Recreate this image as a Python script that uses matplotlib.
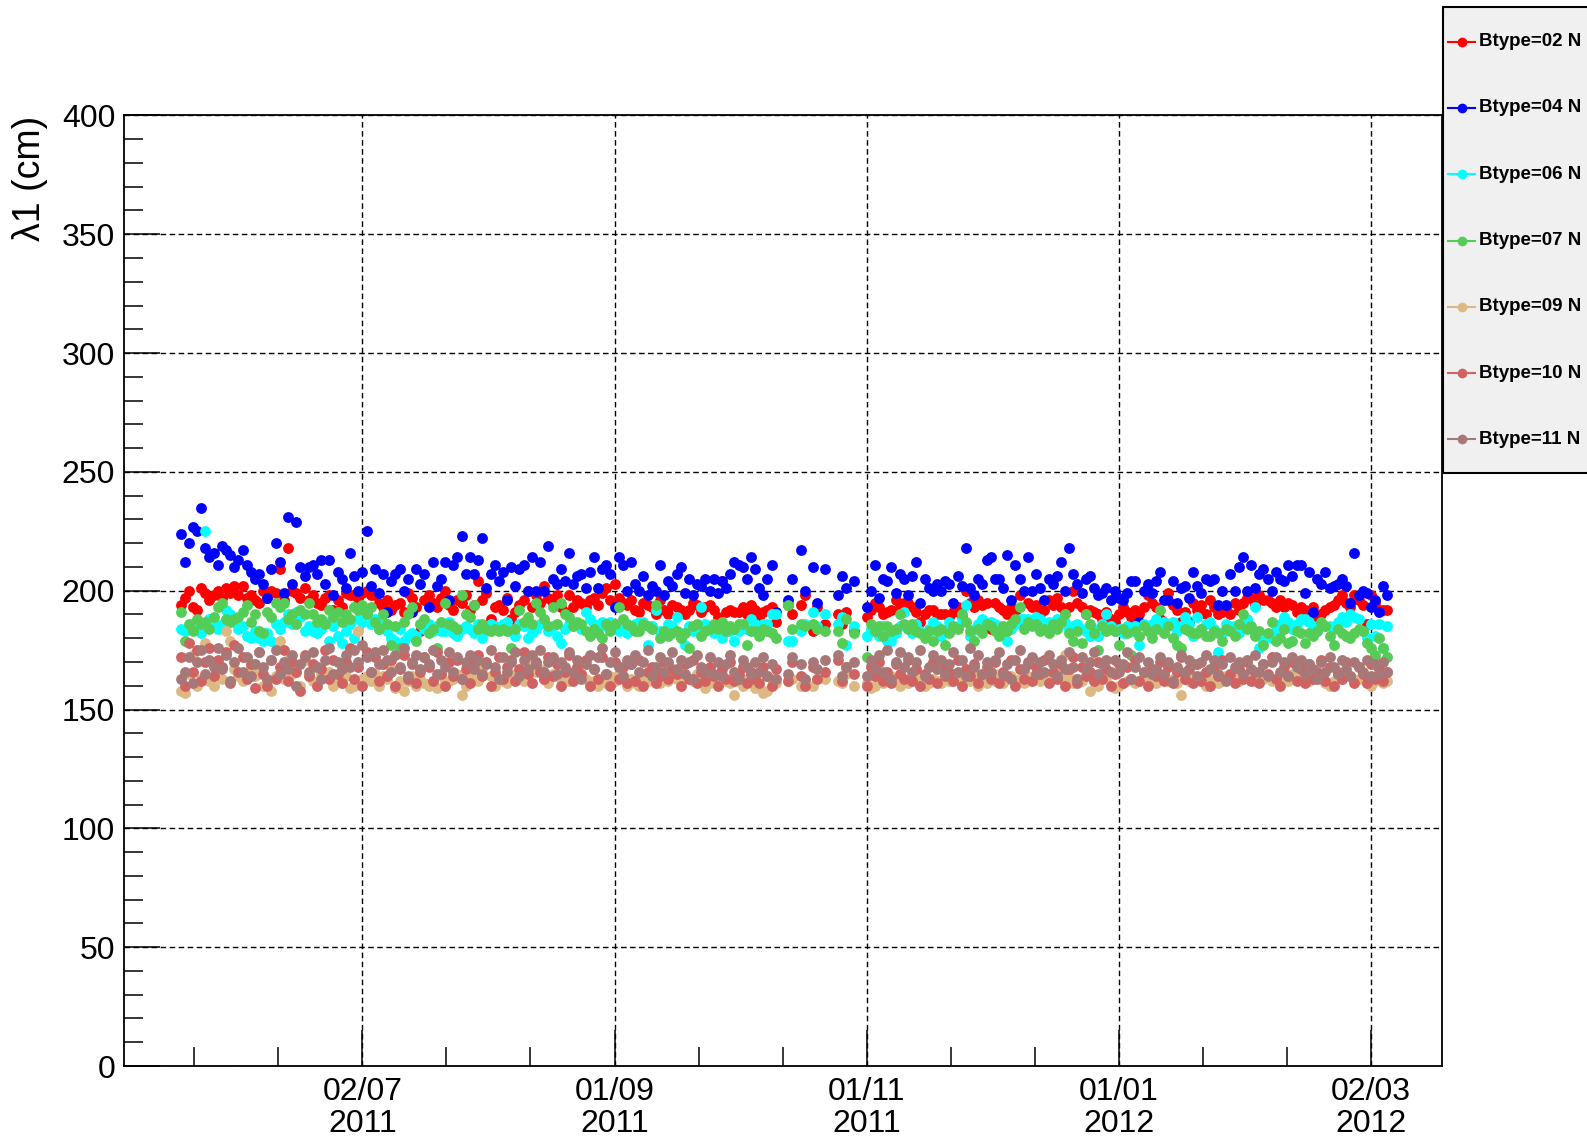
import datetime as dt

import matplotlib
matplotlib.use("Agg")
import matplotlib.pyplot as plt
import matplotlib.dates as mdates
from matplotlib.lines import Line2D
from matplotlib.patches import Rectangle
from matplotlib.ticker import FixedLocator, MultipleLocator

plt.rcParams['font.family'] = ['Liberation Sans', 'DejaVu Sans']

# daily runs, counted in days from 02/07/2011 (a few missing days in October)
t0 = dt.datetime(2011, 7, 2)
day_offsets = (list(range(-44, 101))
               + [103, 104, 106, 107, 109, 110, 112, 115, 116, 117, 119]
               + list(range(122, 249)))

btype02 = [
    194, 197, 200, 193, 192, 201, 199, 196, 198, 200,
    197, 201, 199, 202, 198, 202, 197, 198, 196, 195,
    200, 197, 200, 199, 209, 196, 218, 200, 199, 197,
    201, 196, 198, 195, 194, 197, 198, 192, 196, 193,
    199, 198, 198, 197, 199, 200, 198, 198, 195, 193,
    196, 192, 194, 195, 191, 199, 197, 193, 183, 196,
    198, 195, 193, 197, 200, 194, 192, 196, 195, 198,
    192, 194, 204, 196, 199, 188, 193, 194, 192, 197,
    188, 191, 194, 196, 200, 193, 198, 195, 202, 197,
    195, 198, 193, 191, 198, 193, 196, 195, 193, 196,
    197, 194, 199, 201, 196, 203, 197, 195, 194, 196,
    192, 191, 195, 194, 193, 190, 196, 192, 190, 194,
    193, 192, 190, 192, 195, 194, 191, 193, 194, 192,
    189, 204, 191, 192, 191, 191, 193, 190, 194, 192,
    188, 191, 192, 193, 187,
    194, 190, 194, 198, 183, 193, 186, 190, 186, 191, 183,
    189, 192, 195, 193, 190, 191, 192, 196, 193, 195,
    195, 193, 191, 187, 190, 192, 192, 190, 190, 190,
    189, 191, 193, 189, 200, 195, 193, 196, 194, 195,
    184, 195, 193, 192, 190, 193, 191, 198, 186, 195,
    193, 194, 190, 192, 196, 194, 197, 193, 192, 193,
    200, 195, 193, 190, 192, 191, 190, 188, 191, 188,
    187, 190, 193, 191, 189, 192, 190, 193, 198, 195,
    193, 188, 187, 199, 194, 192, 187, 191, 187, 195,
    192, 194, 190, 196, 193, 190, 191, 193, 190, 195,
    192, 195, 197, 197, 194, 198, 196, 196, 195, 193,
    196, 193, 195, 194, 191, 193, 192, 191, 193, 188,
    190, 192, 193, 194, 196, 198, 195, 193, 198, 196,
    194, 186, 198, 195, 192, 192, 192,
]

btype04 = [
    224, 212, 220, 227, 225, 235, 218, 214, 216, 211,
    219, 217, 215, 210, 213, 217, 211, 208, 205, 207,
    203, 197, 209, 220, 212, 199, 231, 203, 229, 210,
    206, 210, 211, 207, 213, 203, 213, 198, 208, 205,
    201, 216, 206, 200, 208, 225, 202, 209, 199, 207,
    191, 204, 207, 209, 200, 205, 191, 209, 203, 207,
    193, 212, 202, 205, 212, 196, 211, 214, 223, 207,
    214, 207, 213, 222, 201, 207, 211, 204, 208, 196,
    210, 202, 209, 211, 200, 214, 200, 212, 200, 219,
    205, 203, 209, 204, 216, 203, 206, 207, 201, 208,
    214, 201, 209, 211, 207, 193, 214, 211, 200, 212,
    203, 200, 206, 198, 202, 200, 211, 198, 204, 202,
    207, 210, 199, 205, 198, 203, 202, 205, 200, 205,
    199, 204, 201, 207, 212, 211, 210, 205, 214, 209,
    201, 198, 205, 211, 191,
    196, 205, 217, 200, 210, 195, 209, 198, 206, 201, 204,
    193, 200, 211, 197, 205, 204, 210, 199, 207, 205,
    198, 206, 212, 195, 205, 201, 200, 203, 200, 204,
    203, 195, 206, 202, 218, 201, 198, 205, 203, 213,
    214, 205, 205, 201, 215, 196, 211, 205, 200, 214,
    200, 207, 201, 196, 205, 203, 206, 212, 200, 218,
    207, 203, 199, 205, 206, 201, 198, 199, 201, 196,
    200, 197, 196, 199, 204, 204, 187, 200, 203, 199,
    204, 208, 196, 196, 204, 195, 201, 202, 197, 208,
    202, 199, 205, 204, 205, 194, 200, 194, 207, 200,
    210, 214, 200, 211, 201, 207, 209, 205, 200, 208,
    205, 204, 211, 206, 211, 211, 199, 208, 191, 205,
    203, 208, 201, 202, 203, 205, 202, 195, 216, 198,
    200, 199, 193, 196, 191, 202, 198,
]

btype06 = [
    184, 183, 185, 186, 184, 182, 225, 188, 186, 184,
    186, 192, 190, 187, 184, 185, 181, 180, 183, 180,
    179, 182, 179, 186, 184, 187, 190, 186, 191, 189,
    183, 185, 183, 182, 184, 187, 179, 185, 181, 178,
    183, 186, 180, 188, 187, 190, 186, 188, 184, 187,
    183, 180, 179, 184, 179, 181, 182, 181, 186, 184,
    186, 183, 185, 183, 183, 187, 182, 181, 184, 185,
    184, 182, 186, 180, 183, 186, 185, 184, 186, 187,
    183, 181, 186, 185, 180, 182, 184, 186, 187, 183,
    185, 181, 178, 184, 186, 185, 186, 184, 191, 188,
    186, 184, 187, 185, 187, 186, 183, 185, 182, 184,
    186, 187, 187, 177, 185, 192, 183, 182, 186, 185,
    189, 182, 177, 185, 183, 184, 193, 186, 184, 182,
    183, 180, 185, 183, 179, 183, 185, 184, 188, 186,
    184, 186, 186, 190, 190,
    179, 179, 183, 186, 191, 185, 190, 186, 189, 177, 185,
    181, 184, 183, 181, 185, 179, 179, 182, 185, 191,
    184, 182, 186, 183, 181, 184, 187, 185, 181, 183,
    187, 184, 185, 188, 194, 181, 184, 186, 188, 186,
    187, 186, 185, 182, 179, 184, 186, 188, 188, 188,
    186, 189, 188, 185, 187, 186, 188, 186, 187, 184,
    185, 186, 184, 183, 181, 184, 181, 186, 190, 185,
    183, 184, 182, 185, 183, 185, 177, 186, 185, 186,
    188, 184, 187, 186, 187, 183, 185, 189, 186, 181,
    189, 184, 186, 187, 184, 174, 182, 186, 185, 185,
    182, 187, 188, 184, 193, 176, 179, 181, 180, 183,
    186, 189, 187, 184, 186, 188, 188, 187, 185, 183,
    186, 185, 185, 184, 187, 189, 187, 190, 189, 188,
    183, 180, 186, 181, 186, 176, 185,
]

btype07 = [
    191, 179, 186, 183, 188, 186, 187, 184, 189, 193,
    195, 188, 187, 188, 189, 191, 194, 187, 190, 183,
    182, 191, 189, 195, 193, 195, 188, 190, 186, 192,
    190, 195, 190, 187, 188, 186, 192, 189, 191, 187,
    190, 188, 193, 192, 194, 190, 193, 187, 184, 190,
    186, 177, 185, 176, 187, 190, 193, 179, 186, 188,
    182, 184, 176, 187, 195, 186, 185, 184, 198, 190,
    189, 194, 184, 186, 184, 183, 184, 183, 184, 183,
    176, 184, 192, 187, 189, 186, 195, 191, 188, 185,
    193, 186, 195, 190, 189, 185, 187, 186, 183, 181,
    184, 182, 180, 186, 183, 186, 193, 188, 186, 185,
    183, 183, 186, 185, 184, 194, 180, 183, 181, 182,
    183, 180, 182, 176, 185, 186, 181, 183, 184, 186,
    184, 187, 183, 185, 184, 186, 186, 177, 183, 183,
    181, 184, 183, 182, 180,
    194, 184, 186, 185, 186, 184, 183, 183, 178, 188, 182,
    172, 186, 183, 185, 181, 185, 183, 184, 190, 186,
    184, 186, 183, 182, 180, 183, 179, 183, 184, 177,
    182, 185, 184, 190, 187, 183, 179, 184, 182, 186,
    185, 183, 181, 185, 183, 186, 188, 193, 184, 187,
    185, 186, 183, 184, 182, 186, 184, 187, 190, 182,
    179, 183, 178, 190, 186, 182, 175, 185, 183, 184,
    183, 177, 184, 182, 173, 183, 181, 185, 183, 180,
    184, 192, 182, 185, 180, 177, 176, 184, 183, 182,
    182, 184, 181, 181, 183, 182, 179, 184, 183, 181,
    186, 190, 184, 185, 181, 183, 177, 182, 187, 179,
    180, 184, 178, 179, 183, 182, 178, 182, 181, 183,
    187, 185, 181, 177, 184, 182, 181, 180, 182, 184,
    183, 178, 176, 173, 180, 176, 172,
]

btype09 = [
    158, 157, 165, 173, 160, 163, 178, 162, 160, 165,
    163, 183, 179, 167, 164, 162, 165, 168, 164, 165,
    160, 162, 158, 164, 179, 163, 171, 165, 166, 160,
    171, 164, 162, 168, 165, 164, 166, 160, 163, 161,
    164, 159, 160, 183, 163, 164, 162, 165, 160, 164,
    163, 167, 159, 162, 158, 162, 164, 160, 163, 161,
    160, 162, 159, 164, 161, 162, 163, 165, 156, 160,
    164, 166, 162, 167, 169, 164, 160, 163, 162, 161,
    163, 165, 166, 162, 164, 171, 166, 167, 163, 161,
    165, 164, 163, 166, 162, 163, 164, 165, 163, 161,
    162, 160, 163, 161, 164, 162, 165, 164, 160, 163,
    161, 160, 163, 162, 165, 164, 161, 163, 162, 164,
    163, 162, 164, 163, 162, 165, 163, 159, 161, 163,
    164, 165, 162, 161, 156, 162, 160, 163, 162, 159,
    160, 157, 158, 163, 161,
    162, 163, 160, 162, 160, 163, 163, 162, 161, 165, 160,
    161, 159, 160, 163, 161, 162, 164, 162, 160, 163,
    161, 163, 165, 162, 160, 161, 163, 162, 161, 164,
    162, 163, 164, 161, 163, 162, 164, 160, 163, 161,
    163, 162, 165, 161, 163, 164, 162, 163, 161, 164,
    163, 164, 162, 165, 163, 164, 167, 163, 173, 164,
    161, 163, 162, 164, 158, 162, 160, 165, 163, 166,
    159, 160, 161, 162, 163, 161, 162, 164, 163, 162,
    161, 163, 165, 162, 163, 161, 156, 163, 162, 164,
    163, 164, 160, 162, 163, 161, 162, 164, 165, 163,
    162, 163, 164, 163, 162, 165, 163, 164, 162, 163,
    164, 163, 162, 165, 164, 163, 166, 162, 165, 164,
    163, 161, 160, 162, 164, 163, 165, 164, 162, 163,
    164, 161, 160, 162, 163, 161, 162,
]

btype10 = [
    172, 160, 178, 166, 175, 162, 170, 176, 164, 171,
    168, 174, 161, 177, 166, 172, 163, 169, 159, 174,
    165, 160, 171, 163, 168, 175, 162, 170, 166, 158,
    173, 164, 169, 160, 167, 175, 163, 171, 165, 161,
    170, 176, 163, 168, 160, 174, 166, 172, 162, 169,
    164, 171, 160, 167, 173, 163, 169, 161, 166, 172,
    168, 162, 174, 165, 160, 170, 164, 171, 163, 167,
    161, 169, 173, 164, 170, 160, 166, 172, 163, 168,
    171, 162, 167, 174, 165, 161, 170, 166, 163, 172,
    164, 169, 160, 166, 173, 162, 168, 165, 171, 160,
    167, 163, 172, 165, 160, 170, 163, 168, 161, 169,
    162, 171, 160, 166, 168, 161, 164, 170, 163, 167,
    165, 160, 169, 163, 171, 161, 166, 162, 168, 164,
    160, 167, 163, 170, 162, 165, 168, 161, 166, 163,
    161, 168, 164, 160, 167,
    162, 170, 164, 160, 168, 163, 166, 171, 162, 168, 165,
    160, 168, 164, 170, 162, 166, 161, 169, 165, 163,
    171, 162, 167, 160, 165, 163, 170, 161, 168, 164,
    166, 162, 171, 160, 167, 164, 169, 161, 165, 168,
    163, 170, 161, 166, 164, 171, 160, 167, 163, 169,
    162, 168, 165, 171, 161, 166, 163, 169, 160, 167,
    172, 161, 168, 164, 166, 162, 170, 163, 167, 160,
    165, 169, 161, 168, 163, 171, 162, 166, 160, 167,
    164, 170, 162, 168, 161, 166, 172, 163, 167, 161,
    169, 162, 166, 160, 168, 164, 171, 163, 165, 161,
    167, 163, 170, 162, 166, 161, 169, 165, 172, 163,
    160, 168, 164, 170, 162, 167, 161, 169, 163, 166,
    171, 162, 168, 160, 166, 163, 170, 164, 161, 168,
    165, 161, 169, 163, 167, 162, 166,
]

btype11 = [
    163, 166, 172, 161, 170, 175, 165, 171, 168, 176,
    167, 173, 162, 170, 176, 166, 172, 164, 169, 174,
    168, 163, 171, 175, 165, 170, 167, 173, 160, 169,
    172, 166, 174, 168, 163, 171, 176, 165, 170, 167,
    173, 168, 175, 170, 177, 172, 166, 174, 169, 175,
    171, 166, 173, 168, 176, 164, 170, 173, 167, 172,
    169, 175, 165, 171, 168, 174, 166, 172, 163, 170,
    173, 167, 171, 165, 169, 175, 168, 163, 172, 166,
    170, 174, 164, 171, 167, 173, 169, 175, 166, 170,
    172, 165, 170, 168, 174, 166, 171, 163, 169, 173,
    167, 172, 176, 165, 170, 174, 168, 164, 171, 169,
    173, 166, 170, 175, 164, 168, 172, 166, 170, 174,
    167, 171, 165, 170, 163, 173, 168, 166, 172, 165,
    170, 164, 169, 173, 166, 163, 171, 168, 165, 170,
    166, 172, 164, 169, 163,
    165, 172, 169, 163, 170, 167, 171, 173, 164, 168, 170,
    164, 171, 167, 173, 166, 175, 163, 170, 174, 168,
    172, 166, 170, 175, 164, 168, 173, 167, 171, 165,
    169, 174, 166, 171, 164, 176, 168, 173, 165, 170,
    166, 171, 174, 165, 169, 163, 171, 175, 167, 170,
    172, 165, 170, 166, 173, 169, 164, 171, 167, 174,
    168, 163, 172, 167, 170, 174, 165, 169, 171, 166,
    171, 166, 169, 174, 163, 168, 172, 166, 170, 165,
    167, 172, 165, 170, 162, 168, 173, 166, 171, 169,
    164, 170, 173, 167, 171, 165, 169, 162, 172, 168,
    170, 165, 171, 167, 173, 166, 169, 164, 170, 172,
    166, 170, 164, 172, 168, 171, 165, 169, 167, 163,
    170, 166, 172, 168, 165, 171, 167, 164, 170, 168,
    166, 171, 164, 169, 165, 170, 166,
]

labels = ['Btype=02 N', 'Btype=04 N', 'Btype=06 N', 'Btype=07 N',
          'Btype=09 N', 'Btype=10 N', 'Btype=11 N']
colors = ['#ff0000', '#0000ff', '#00ffff', '#55cc55',
          '#dcb882', '#d06262', '#a87878']
series = [btype02, btype04, btype06, btype07, btype09, btype10, btype11]

dates = [t0 + dt.timedelta(days=d) for d in day_offsets]

W, H = 1587, 1139
fig = plt.figure(figsize=(W / 100, H / 100), dpi=100)
ax = fig.add_axes([123.5 / W, 1 - 1066 / H, (1442 - 123.5) / W, (1066 - 115.4) / H])

for vals, col in zip(series, colors):
    ax.plot(dates, vals, 'o', ls='none', ms=7.8, color=col, mec='none', zorder=3)

# time axis: a labelled tick every 61 days, two minor ticks in between
x0 = mdates.date2num(t0)
ax.set_xlim(x0 - 57.8, x0 + 261.2)
ax.set_ylim(0, 400)
ax.xaxis.set_major_locator(FixedLocator([x0 + 61 * k for k in range(5)]))
ax.xaxis.set_minor_locator(FixedLocator([x0 + 61 * k / 3 for k in range(-2, 14)]))
ax.xaxis.set_major_formatter(mdates.DateFormatter('%d/%m\n%Y'))
ax.yaxis.set_major_locator(MultipleLocator(50))
ax.yaxis.set_minor_locator(MultipleLocator(10))

ax.tick_params(which='both', direction='in', top=False, right=False, width=1.1, colors='black')
ax.tick_params(which='major', length=26, labelsize=23)
ax.tick_params(which='minor', length=13.5)
ax.tick_params(axis='x', which='major', pad=8)
ax.tick_params(axis='y', which='major', pad=6)
plt.setp(ax.get_xticklabels(), linespacing=1.1)
for sp in ax.spines.values():
    sp.set_linewidth(1.3)

ax.grid(True, which='major', color='black', ls=(0, (4, 2.5)), lw=1.0, zorder=1)

fig.text(30.5 / W, 1 - 116 / H, 'λ1 (cm)', rotation=90, ha='center', va='top', fontsize=27)

# legend box on the right, partly outside the figure
fig.add_artist(Rectangle((1443 / W, 1 - 473 / H), 0.2, (473 - 7) / H,
                         transform=fig.transFigure, facecolor='#f0f0f0',
                         edgecolor='black', lw=1.5, zorder=0))
for i, (lab, col) in enumerate(zip(labels, colors)):
    yy = 1 - (41.7 + 66.3 * i) / H
    fig.add_artist(Line2D([1448 / W, 1475 / W], [yy, yy], transform=fig.transFigure,
                          color=col, lw=1.5))
    fig.add_artist(Line2D([1461.7 / W], [yy], transform=fig.transFigure,
                          marker='o', ms=7, color=col, mec='none'))
    fig.text(1479 / W, yy, lab, ha='left', va='center', fontsize=13.5,
             fontweight='bold', color='black')

fig.savefig('out.png', dpi=100)
